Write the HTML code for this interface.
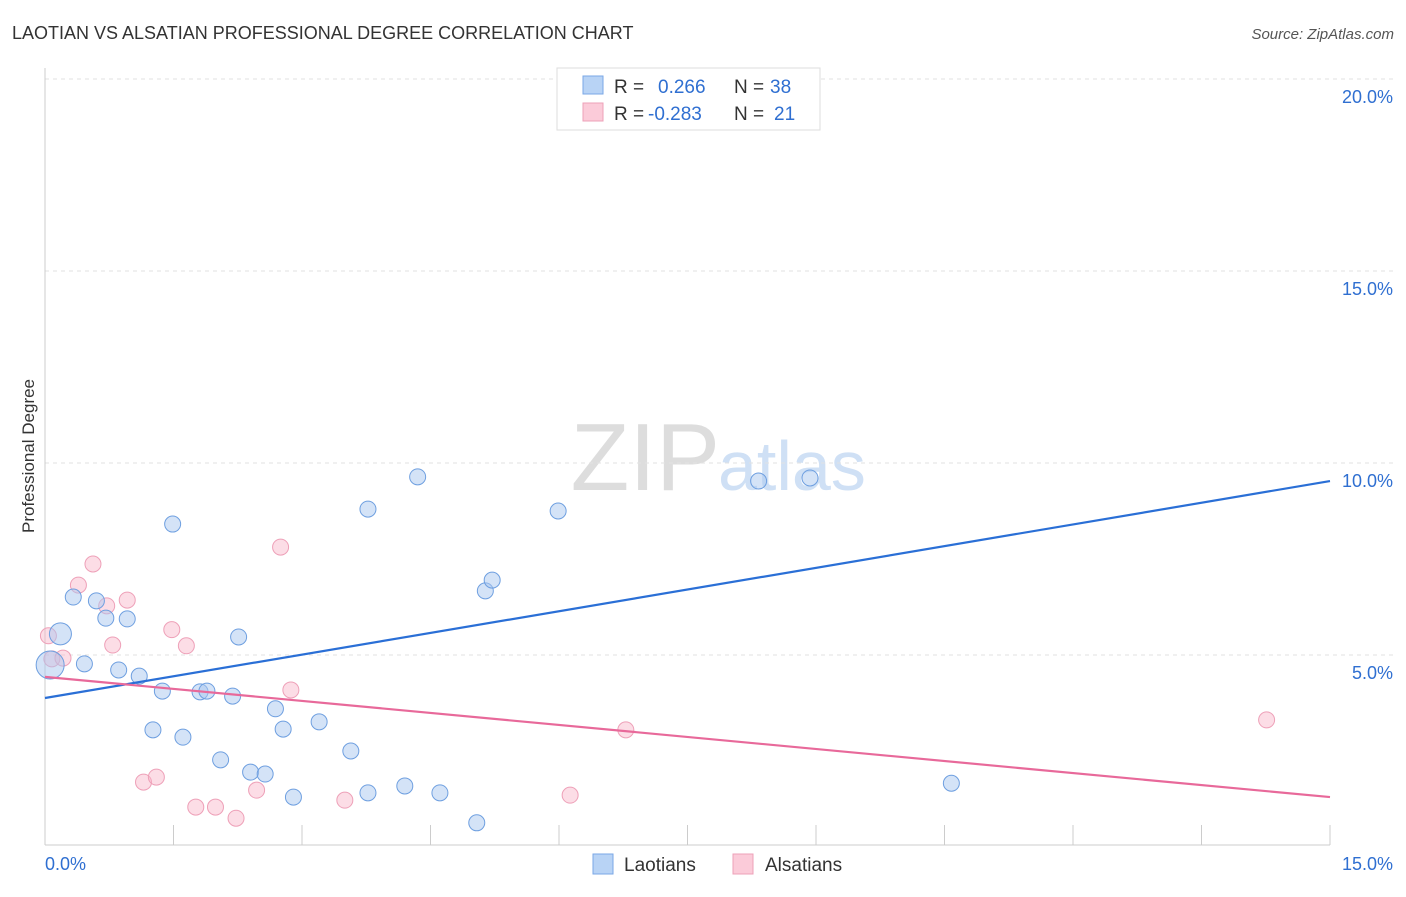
<!DOCTYPE html>
<html><head><meta charset="utf-8"><style>
body{margin:0;background:#fff;font-family:"Liberation Sans",sans-serif;}
svg text{font-family:"Liberation Sans",sans-serif;}
</style></head><body>
<svg id="chart" width="1406" height="892">
<text x="12" y="39" font-size="18" fill="#333">LAOTIAN VS ALSATIAN PROFESSIONAL DEGREE CORRELATION CHART</text>
<text x="1394" y="39" font-size="15" fill="#555" font-style="italic" text-anchor="end">Source: ZipAtlas.com</text>
<text x="34" y="456" font-size="17" fill="#333" text-anchor="middle" transform="rotate(-90 34 456)">Professional Degree</text>
<text x="720" y="490" font-size="96" fill="#ddd" font-family="Liberation Serif" text-anchor="end">ZIP</text>
<text x="718" y="490" font-size="70" fill="#cfe0f5">atlas</text>
<g id="grid"></g><g id="marks"></g>
<g>
<rect x="557" y="68" width="263" height="62" fill="#fff" stroke="#ddd"/>
<rect x="583" y="76" width="20" height="18" fill="#b8d3f5" stroke="#7aa7e6"/>
<rect x="583" y="103" width="20" height="18" fill="#fbcbd9" stroke="#eea0b8"/>
<text x="614" y="93" font-size="19" fill="#333">R =</text><text x="658" y="93" font-size="19" fill="#2f6fd1">0.266</text>
<text x="734" y="93" font-size="19" fill="#333">N =</text><text x="770" y="93" font-size="19" fill="#2f6fd1">38</text>
<text x="614" y="120" font-size="19" fill="#333">R =</text><text x="648" y="120" font-size="19" fill="#2f6fd1">-0.283</text>
<text x="734" y="120" font-size="19" fill="#333">N =</text><text x="774" y="120" font-size="19" fill="#2f6fd1">21</text>
</g>
<g>
<rect x="593" y="854" width="20" height="20" fill="#b8d3f5" stroke="#7aa7e6"/>
<text x="624" y="871" font-size="19" fill="#333">Laotians</text>
<rect x="733" y="854" width="20" height="20" fill="#fbcbd9" stroke="#eea0b8"/>
<text x="765" y="871" font-size="19" fill="#333">Alsatians</text>
</g>
</svg>
<script>
const yTicks=[5,10,15,20];
const xTickCount=10;
const laoX=[0.06,0.18,0.33,0.46,0.6,0.71,0.86,0.96,1.1,1.26,1.37,1.49,1.61,1.81,1.89,2.05,2.19,2.26,2.4,2.57,2.69,2.78,2.9,3.2,3.57,3.77,3.77,4.2,4.35,4.61,5.04,5.14,5.22,5.99,8.33,8.93,10.58,6.62];
const laoY=[4.74,5.55,6.51,4.77,6.41,5.96,4.61,5.94,4.45,3.05,4.06,8.41,2.86,4.04,4.06,2.27,3.93,5.47,1.95,1.9,3.6,3.07,1.3,3.26,2.5,8.8,1.41,1.59,9.64,1.41,0.63,6.67,6.95,8.75,9.53,9.61,1.66,19.6];
const laoR=[14,11,8,8,8,8,8,8,8,8,8,8,8,8,8,8,8,8,8,8,8,8,8,8,8,8,8,8,8,8,8,8,8,8,8,8,8,8];
const alsX=[0.04,0.08,0.21,0.39,0.56,0.72,0.79,0.96,1.15,1.3,1.48,1.65,1.76,1.99,2.23,2.47,2.75,2.87,3.5,6.13,6.78,14.26];
const alsY=[5.5,4.9,4.92,6.82,7.37,6.28,5.26,6.43,1.69,1.82,5.66,5.24,1.04,1.04,0.75,1.48,7.81,4.09,1.22,1.35,3.05,3.31];
const blueLine=[3.88,9.53];
const pinkLine=[4.43,1.30];
const X=v=>45+v/15*1285, Y=v=>847-v/20*768;
const NS="http://www.w3.org/2000/svg";
const grid=document.getElementById('grid'), marks=document.getElementById('marks');
function mk(tag,a,p){const e=document.createElementNS(NS,tag);for(const k in a)e.setAttribute(k,a[k]);p.appendChild(e);return e;}
yTicks.forEach(t=>{
 const l=mk('line',{x1:45,x2:1394,y1:Y(t),y2:Y(t),stroke:'#e2e2e2','stroke-dasharray':'4,4'},grid);
 
 
 const tx=mk('text',{x:1393,y:Y(t)+24,'font-size':18,fill:'#2f6fd1','text-anchor':'end'},grid);tx.textContent=t.toFixed(1)+'%';
 
 
});
mk('line',{x1:45,x2:45,y1:68,y2:845,stroke:'#ccc'},grid);
mk('line',{x1:45,x2:1330,y1:845,y2:845,stroke:'#ccc'},grid);
for(let i=1;i<=xTickCount;i++){const x=X(i*1.5);mk('line',{x1:x,x2:x,y1:825,y2:845,stroke:'#ccc'},grid);}
let t1=mk('text',{x:45,y:870,'font-size':18,fill:'#2f6fd1'},grid);t1.textContent='0.0%';


let t2=mk('text',{x:1393,y:870,'font-size':18,fill:'#2f6fd1','text-anchor':'end'},grid);t2.textContent='15.0%';


alsX.forEach((v,i)=>{const c=mk('circle',{cx:X(v),cy:Y(alsY[i]),r:8,fill:'rgba(248,180,200,0.45)',stroke:'#eea0b8','stroke-width':1},marks);
 
 });
laoX.forEach((v,i)=>{const c=mk('circle',{cx:X(v),cy:Y(laoY[i]),r:laoR[i],fill:'rgba(170,200,240,0.5)',stroke:'#6e9fe0','stroke-width':1},marks);
 
 });
const bl=mk('line',{x1:X(0),y1:Y(blueLine[0]),x2:X(15),y2:Y(blueLine[1]),stroke:'#2a6fd6','stroke-width':2.2},marks);


const pl=mk('line',{x1:X(0),y1:Y(pinkLine[0]),x2:X(15),y2:Y(pinkLine[1]),stroke:'#e8699a','stroke-width':2.2},marks);


</script>
</body></html>
